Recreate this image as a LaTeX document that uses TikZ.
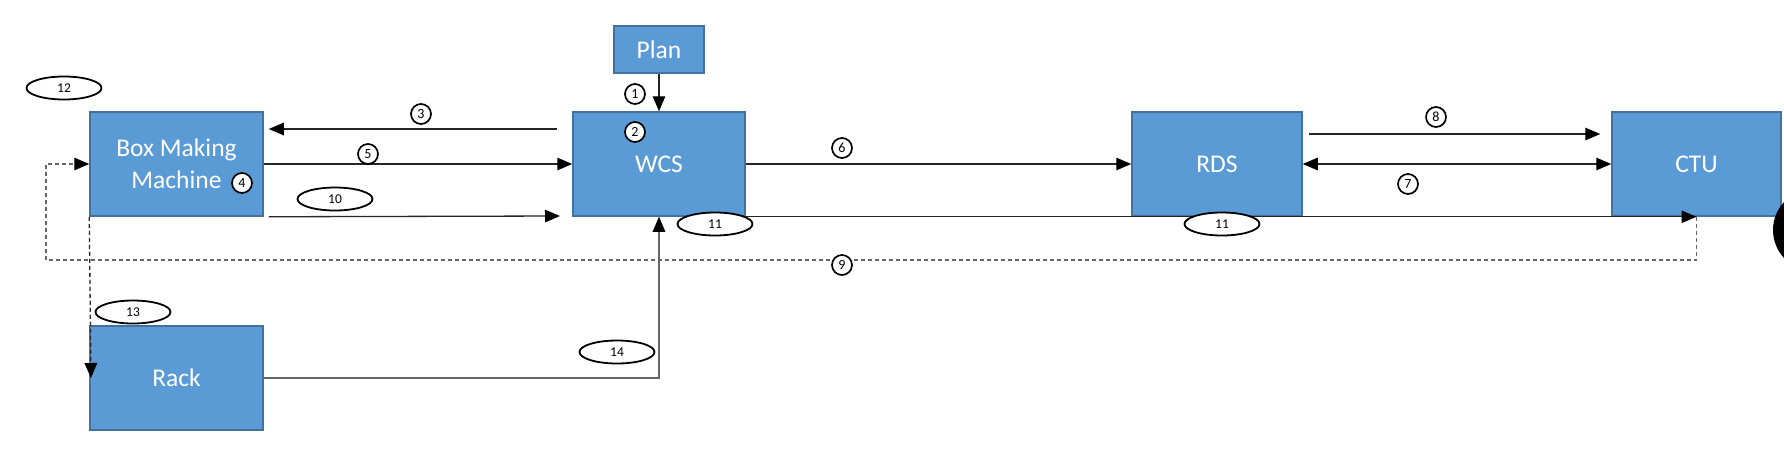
\documentclass[tikz,border=0pt]{standalone}
\usepackage{fontspec}
\setmainfont{Carlito}
\usetikzlibrary{arrows.meta,shapes.geometric}
\definecolor{boxfill}{HTML}{5B9BD5}
\definecolor{boxline}{HTML}{41719C}
\begin{document}
\begin{tikzpicture}[x=1pt,y=-1pt,
  blk/.style={draw=boxline,line width=1.5pt,fill=boxfill,text=white,font=\fontsize{25.5}{32}\selectfont,inner sep=0pt,align=center},
  num/.style={circle,draw,line width=1.7pt,fill=white,minimum size=20pt,inner sep=0pt,font=\fontsize{14}{14}\selectfont},
  oval/.style={ellipse,draw,line width=1.8pt,fill=white,minimum width=75pt,minimum height=23pt,inner sep=0pt,font=\fontsize{13.5}{13.5}\selectfont},
  conn/.style={draw=black!85,line width=1.3pt},
  arr/.style={conn,-{Triangle[length=15pt,width=12.5pt,color=black]}},
  dline/.style={line width=1.3pt,dash pattern=on 4pt off 3pt}
]
\clip (0,0) rectangle (1784,448);
\fill[white] (0,0) rectangle (1784,448);

% boxes
\node[blk,minimum width=173pt,minimum height=104pt] (bmm) at (176.5,164) {Box Making\\Machine};
\node[blk,minimum width=172pt,minimum height=104pt] (wcs) at (659,164) {WCS};
\node[blk,minimum width=170pt,minimum height=104pt] (rds) at (1217,164) {RDS};
\node[blk,minimum width=169pt,minimum height=104pt] (ctu) at (1696.5,164) {CTU};
\node[blk,minimum width=173pt,minimum height=104pt] (rack) at (176.5,378) {Rack};
\node[blk,minimum width=90pt,minimum height=47pt] (plan) at (659,49.5) {Plan};

% free ends
\coordinate (s3) at (557,129);
\coordinate (e10) at (560,216);
\coordinate (s8) at (1309,134);
\coordinate (c9) at (46,260);
\coordinate (c13) at (91,378);

% connectors
\draw[arr] (plan.south) -- (wcs.north);
\draw[arr] (s3) -- ([xshift=5pt]bmm.east |- s3);
\draw[arr] (bmm.east) -- (wcs.west);
\draw[arr] ([xshift=5pt]bmm.south east) -- (e10);
\draw[arr] (wcs.east) -- (rds.west);
\draw[arr] (s8) -- ([xshift=-11pt]ctu.west |- s8);
\draw[conn,{Triangle[length=15pt,width=12.5pt,color=black]}-{Triangle[length=15pt,width=12.5pt,color=black]}] (rds.east) -- (ctu.west);
\draw[arr] (wcs.south east) -- (ctu.south);
\draw[dline,draw=black!60,-{Triangle[length=15pt,width=12.5pt,color=black]}] (ctu.south) |- (c9) |- (bmm.west);
\draw[dline,draw=black!85,-{Triangle[length=15pt,width=12.5pt,color=black]}] (bmm.south west) -- (c13);
\draw[arr,draw=black!60] (rack.east) -| (wcs.south);

% circled numbers
\node[num] (n1) at (635,94) {1};
\node[num] (n2) at (635,132) {2};
\node[num] (n3) at (421,114) {3};
\node[num] (n4) at (242,183) {4};
\node[num] (n5) at (368,154) {5};
\node[num] (n6) at (842,148) {6};
\node[num] (n7) at (1408,184) {7};
\node[num] (n8) at (1436,117) {8};
\node[num] (n9) at (842,265) {9};

% oval labels
\node[oval] (o12) at (64,88) {12};
\node[oval] (o10) at (335,199) {10};
\node[oval] (o11a) at (715,224) {11};
\node[oval] (o11b) at (1222,224) {11};
\node[oval] (o13) at (133,312) {13};
\node[oval] (o14) at (617,352) {14};

% black blob at the right edge
\fill[black] (1814,230) circle (41pt);
\end{tikzpicture}
\end{document}
